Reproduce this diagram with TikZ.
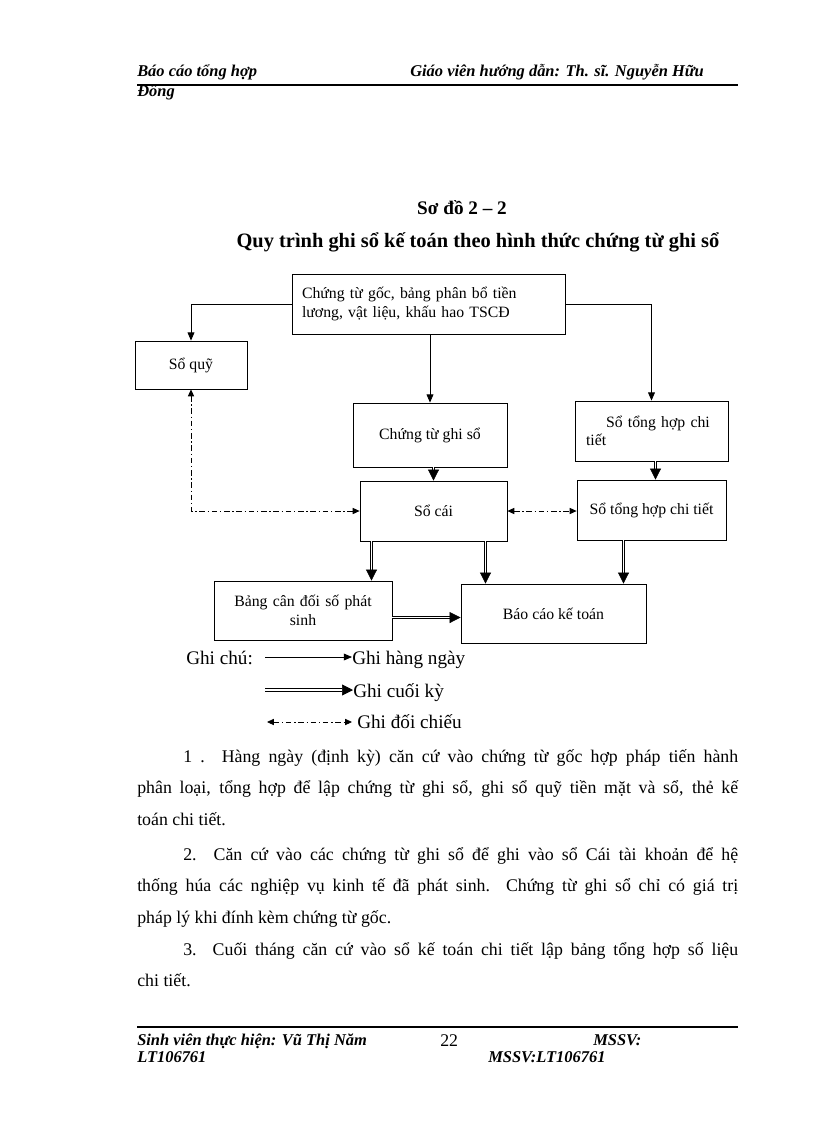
\documentclass[tikz,border=0pt]{standalone}
\usepackage{fontspec}
\setmainfont{Liberation Serif}
\usetikzlibrary{positioning}
\usetikzlibrary{arrows.meta}
\newlength\unitpx
\setlength\unitpx{0.7295pt}

\begin{document}
\begin{tikzpicture}
  [x=\unitpx, y=-\unitpx,
   box/.style={draw, rectangle, line width=0.6pt, inner sep=0pt, font=\fontsize{11.5}{13.5}\selectfont},
   daily/.style={line width=0.6pt, -{Triangle[length=6pt,width=5pt]}},
   final/.style={double, double distance=1.4pt, line width=0.5pt, -{Triangle[length=8pt,width=8pt]}},
   check/.style={line width=0.6pt, dash pattern=on 4pt off 2pt on 1pt off 2pt,
     {Triangle[length=5pt,width=4.5pt]}-{Triangle[length=5pt,width=4.5pt]}},
   head/.style={font=\fontsize{12}{14}\selectfont\bfseries\itshape, anchor=base west, inner sep=0pt},
   title/.style={font=\fontsize{14}{16}\selectfont\bfseries, anchor=base, inner sep=0pt},
   legend/.style={font=\fontsize{14}{16}\selectfont, anchor=base west, inner sep=0pt},
   body/.style={font=\fontsize{13}{23.3}\selectfont, anchor=base west, inner sep=0pt,
     text width=601\unitpx, align=justify}]
  \useasboundingbox (0,0) rectangle (816,1123);

  \node (h1) [head] at (137,76) {Báo cáo tổng hợp};
  \node (h2) [head] at (410,76) {Giáo viên hướng dẫn: Th. sĩ. Nguyễn Hữu};
  \node (h3) [head] at (137,96) {Đồng};
  \draw[line width=2pt] (137,85) -- (738,85);

  \node (t1) [title] at (462,214) {Sơ đồ 2 – 2};
  \node (t2) [title, font=\fontsize{14.9}{17}\selectfont\bfseries] at (478,247)
    {Quy trình ghi sổ kế toán theo hình thức chứng từ ghi sổ};

  \node (goc) [box, minimum width=273\unitpx, minimum height=60\unitpx,
    text width=253\unitpx, align=left] at (428.5,304)
    {Chứng từ gốc, bảng phân bổ tiền\\lương, vật liệu, khấu hao TSCĐ\par\vspace*{8\unitpx}};
  \node (quy) [box, minimum width=112\unitpx, minimum height=48\unitpx] at (191,365) {Sổ quỹ};
  \node (ctgs) [box, minimum width=154\unitpx, minimum height=64\unitpx] at (430,435) {Chứng từ ghi sổ};
  \node (sth1) [box, minimum width=153\unitpx, minimum height=60\unitpx,
    text width=131\unitpx, align=left] at (651.5,431)
    {\hspace*{20\unitpx}Sổ tổng hợp chi\\tiết};
  \node (cai) [box, minimum width=147\unitpx, minimum height=60\unitpx] at (433.5,511) {Sổ cái};
  \node (sth2) [box, minimum width=149\unitpx, minimum height=60\unitpx] at (651.5,510) {Sổ tổng hợp chi tiết};
  \node (bcd) [box, minimum width=178\unitpx, minimum height=59\unitpx,
    text width=160\unitpx, align=center] at (303,610.5)
    {Bảng cân đối số phát\\sinh};
  \node (bckt) [box, minimum width=185\unitpx, minimum height=59\unitpx] at (553.5,613.5) {Báo cáo kế toán};

  \draw[daily] (goc.west) -| (quy.north);
  \draw[daily] (goc.south -| ctgs.north) -- (ctgs.north);
  \draw[daily] (goc.east) -| (sth1.north);
  \draw[final] (ctgs.south -| cai.north) -- (cai.north);
  \draw[final] ([xshift=4\unitpx]sth1.south) -- ([xshift=4\unitpx]sth2.north);
  \draw[final] ([xshift=-62\unitpx]cai.south) -- ([xshift=-62\unitpx]cai.south |- bcd.north);
  \draw[final] ([xshift=52\unitpx]cai.south) -- ([xshift=52\unitpx]cai.south |- bckt.north);
  \draw[final] ([xshift=-28\unitpx]sth2.south) -- ([xshift=-28\unitpx]sth2.south |- bckt.north);
  \draw[final] ([yshift=-7\unitpx]bcd.east) -- ([yshift=-7\unitpx]bcd.east -| bckt.west);
  \draw[check] (quy.south) |- (cai.west);
  \draw[check] (cai.east) -- (cai.east -| sth2.west);

  \node (gc) [legend] at (186,664) {Ghi chú:};
  \node (ln1) [legend] at (352,664) {Ghi hàng ngày};
  \node (ln2) [legend] at (353,697) {Ghi cuối kỳ};
  \node (ln3) [legend] at (357,728) {Ghi đối chiếu};
  \coordinate (d1) at (265,657);
  \coordinate (f1) at (265,690);
  \coordinate (c1) at (267,722);
  \coordinate (c2) at (352,722);
  \draw[daily] (d1) -- (d1 -| ln1.west);
  \draw[final] (f1) -- (f1 -| ln2.west);
  \draw[check] (c1) -- (c2);

  \node (par1) [body] at (137,762)
    {\hspace*{46\unitpx}1 . Hàng ngày (định kỳ) căn cứ vào chứng từ gốc hợp pháp tiến hành\linebreak
     phân loại, tổng hợp để lập chứng từ ghi sổ, ghi sổ quỹ tiền mặt và sổ, thẻ kế\linebreak
     toán chi tiết.};
  \node (par2) [body] at (137,860)
    {\hspace*{46\unitpx}2. Căn cứ vào các chứng từ ghi sổ để ghi vào sổ Cái tài khoản để hệ\linebreak
     thống húa các nghiệp vụ kinh tế đã phát sinh. Chứng từ ghi sổ chỉ có giá trị\linebreak
     pháp lý khi đính kèm chứng từ gốc.};
  \node (par3) [body] at (137,955)
    {\hspace*{46\unitpx}3. Cuối tháng căn cứ vào sổ kế toán chi tiết lập bảng tổng hợp số liệu\linebreak
     chi tiết.};

  \draw[line width=2pt] (137,1027) -- (738,1027);
  \node (f1a) [head] at (137,1045) {Sinh viên thực hiện: Vũ Thị Năm};
  \node (pg) [legend, font=\fontsize{13}{15}\selectfont] at (440,1046) {22};
  \node (f1b) [head] at (593,1045) {MSSV:};
  \node (f2a) [head] at (137,1062) {LT106761};
  \node (f2b) [head] at (488,1062) {MSSV:LT106761};
\end{tikzpicture}
\end{document}
